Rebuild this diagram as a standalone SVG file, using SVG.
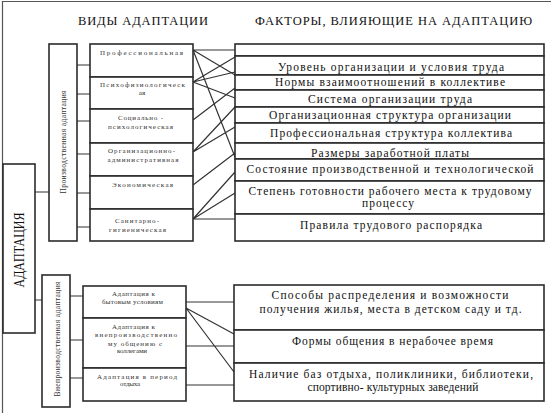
<svg xmlns="http://www.w3.org/2000/svg" width="551" height="413" viewBox="0 0 551 413">
<style>
.box{fill:#fff;stroke:#2b2b2b;stroke-width:1.6}
.ln{stroke:#333;stroke-width:1.2;fill:none}
.fr{stroke:#555;stroke-width:1.2;fill:none}
.t{font-family:"Liberation Serif","Times New Roman",serif;fill:#111;text-anchor:middle}
.f{font-size:11.5px}
.s{font-size:7px;fill:#333}
.h{font-size:12.5px}
.r{font-size:7.5px;fill:#333}
</style>
<rect width="551" height="413" fill="#fff"/>
<path class="fr" d="M2.5 413 V1.5 H551"/>
<g id="headers">
<text class="t h" x="143" y="25" textLength="130" lengthAdjust="spacing">ВИДЫ АДАПТАЦИИ</text>
<text class="t h" x="393.5" y="25" textLength="277" lengthAdjust="spacing">ФАКТОРЫ, ВЛИЯЮЩИЕ НА АДАПТАЦИЮ</text>
</g>
<g id="connectors">
<path class="ln" d="M35 192 H49 M35 300 H42 M77 65 H90 M77 94 H90 M77 121 H90 M77 154 H90 M77 193 H90 M77 227 H90 M70 296 H83 M70 340 H83 M70 378 H83"/>
<path class="ln" d="M193 50 L235 50 M193 50 L235 75 M193 50 L235 157 M193 82 L235 57 M193 82 L235 72 M193 82 L235 98 M193 120 L235 88 M193 152 L235 107 M193 152 L235 127 M193 185 L235 153 M193 219 L235 172 M193 219 L235 193 M193 219 L235 219"/>
<path class="ln" d="M186 302 H234 M186 346 H234 M186 385 H234 M186 308 L234 334 M186 308 L234 372"/>
</g>
<g id="node-adaptation">
<rect class="box" x="3" y="164" width="32" height="169"/>
<text class="t" font-size="14" transform="translate(19,250) rotate(-90)" x="0" y="5" textLength="75" lengthAdjust="spacingAndGlyphs">АДАПТАЦИЯ</text>
</g>
<g id="node-prod">
<rect class="box" x="49" y="44" width="28" height="197"/>
<text class="t r" transform="translate(63,142) rotate(-90)" x="0" y="2.5" textLength="103" lengthAdjust="spacing">Производственная адаптация</text>
</g>
<g id="node-vneprod">
<rect class="box" x="42" y="275" width="28" height="132"/>
<text class="t r" transform="translate(57,339) rotate(-90)" x="0" y="2.5" textLength="115" lengthAdjust="spacing">Внепроизводственная адаптация</text>
</g>
<g id="node-prof"><rect class="box" x="90" y="44" width="103" height="33"/>
<text class="t s" x="141.5" y="54.5" textLength="83" lengthAdjust="spacing">Профессиональная</text></g>
<g id="node-psych"><rect class="box" x="90" y="77" width="103" height="32"/>
<text class="t s" x="142.5" y="86.5" textLength="85" lengthAdjust="spacing">Психофизиологическ</text>
<text class="t s" x="142" y="95">ая</text></g>
<g id="node-soc"><rect class="box" x="90" y="109" width="103" height="34"/>
<text class="t s" x="140.5" y="119.5" textLength="45" lengthAdjust="spacing">Социально -</text>
<text class="t s" x="140.5" y="129" textLength="65" lengthAdjust="spacing">психологическая</text></g>
<g id="node-org"><rect class="box" x="90" y="143" width="103" height="33"/>
<text class="t s" x="141.5" y="153" textLength="67" lengthAdjust="spacing">Организационно-</text>
<text class="t s" x="143" y="161.5" textLength="71" lengthAdjust="spacing">административная</text></g>
<g id="node-econ"><rect class="box" x="90" y="176" width="103" height="33"/>
<text class="t s" x="142.5" y="186.5" textLength="61" lengthAdjust="spacing">Экономическая</text></g>
<g id="node-san"><rect class="box" x="90" y="209" width="103" height="32"/>
<text class="t s" x="137" y="223" textLength="44" lengthAdjust="spacing">Санитарно-</text>
<text class="t s" x="137.5" y="231.5" textLength="57" lengthAdjust="spacing">гигиеническая</text></g>
<g id="node-byt"><rect class="box" x="83" y="286" width="103" height="32"/>
<text class="t s" x="133.5" y="295.5" textLength="43" lengthAdjust="spacing">Адаптация к</text>
<text class="t s" x="132.5" y="304" textLength="61" lengthAdjust="spacing">бытовым условиям</text></g>
<g id="node-obsh"><rect class="box" x="83" y="318" width="103" height="50"/>
<text class="t s" x="133.5" y="329" textLength="43" lengthAdjust="spacing">Адаптация к</text>
<text class="t s" x="136" y="337.3" textLength="82" lengthAdjust="spacing">внепроизводственно</text>
<text class="t s" x="135" y="345.6" textLength="54" lengthAdjust="spacing">му общению с</text>
<text class="t s" x="132" y="353" textLength="30" lengthAdjust="spacing">коллегами</text></g>
<g id="node-otdyh"><rect class="box" x="83" y="368" width="103" height="33"/>
<text class="t s" x="137" y="379" textLength="80" lengthAdjust="spacing">Адаптация в период</text>
<text class="t s" x="130" y="386.3" textLength="20" lengthAdjust="spacing">отдыха</text></g>
<g id="node-f0"><rect class="box" x="235" y="44" width="309" height="12"/></g>
<g id="node-f1"><rect class="box" x="235" y="56" width="309" height="19"/>
<text class="t f" x="391" y="71" textLength="226" lengthAdjust="spacing">Уровень организации и условия труда</text></g>
<g id="node-f2"><rect class="box" x="235" y="75" width="309" height="15"/>
<text class="t f" x="390" y="86" textLength="230" lengthAdjust="spacing">Нормы взаимоотношений в коллективе</text></g>
<g id="node-f3"><rect class="box" x="235" y="90" width="309" height="17"/>
<text class="t f" x="390" y="103" textLength="164" lengthAdjust="spacing">Система организации труда</text></g>
<g id="node-f4"><rect class="box" x="235" y="107" width="309" height="16"/>
<text class="t f" x="390" y="119" textLength="242" lengthAdjust="spacing">Организационная структура организации</text></g>
<g id="node-f5"><rect class="box" x="235" y="123" width="309" height="20"/>
<text class="t f" x="391" y="137" textLength="242" lengthAdjust="spacing">Профессиональная структура коллектива</text></g>
<g id="node-f6"><rect class="box" x="235" y="143" width="309" height="16"/>
<text class="t f" x="390" y="156.5" textLength="158" lengthAdjust="spacing">Размеры заработной платы</text></g>
<g id="node-f7"><rect class="box" x="235" y="159" width="309" height="22"/>
<text class="t f" x="390" y="173" textLength="287" lengthAdjust="spacing">Состояние производственной и технологической</text></g>
<g id="node-f8"><rect class="box" x="235" y="181" width="309" height="33"/>
<text class="t f" x="390" y="195" textLength="283" lengthAdjust="spacing">Степень готовности рабочего места к трудовому</text>
<text class="t f" x="388" y="207" textLength="52" lengthAdjust="spacing">процессу</text></g>
<g id="node-f9"><rect class="box" x="235" y="214" width="309" height="27"/>
<text class="t f" x="391" y="229" textLength="182" lengthAdjust="spacing">Правила трудового распорядка</text></g>
<g id="node-g1"><rect class="box" x="234" y="285" width="310" height="45"/>
<text class="t f" x="390" y="299" textLength="237" lengthAdjust="spacing">Способы распределения и возможности</text>
<text class="t f" x="390.5" y="313" textLength="262" lengthAdjust="spacing">получения жилья, места в детском саду и тд.</text></g>
<g id="node-g2"><rect class="box" x="234" y="330" width="310" height="33"/>
<text class="t f" x="392.5" y="345" textLength="201" lengthAdjust="spacing">Формы общения в нерабочее время</text></g>
<g id="node-g3"><rect class="box" x="234" y="363" width="310" height="38"/>
<text class="t f" x="391" y="378" textLength="284" lengthAdjust="spacing">Наличие баз отдыха, поликлиники, библиотеки,</text>
<text class="t f" x="393" y="391" textLength="171" lengthAdjust="spacing">спортивно- культурных заведений</text></g>
</svg>
